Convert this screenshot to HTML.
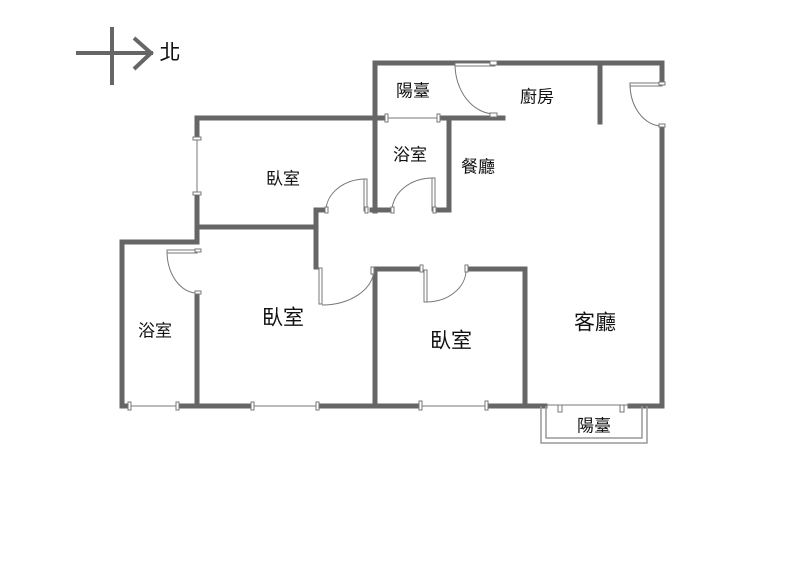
<!DOCTYPE html>
<html><head><meta charset="utf-8"><style>
html,body{margin:0;padding:0;background:#fff;}
svg{display:block}
text{font-family:"Liberation Sans","Noto Sans CJK TC",sans-serif;fill:#111;text-anchor:middle;dominant-baseline:central}
</style></head><body>
<svg width="800" height="577" viewBox="0 0 800 577" xmlns="http://www.w3.org/2000/svg">
<g stroke="#666" stroke-width="4" fill="none" stroke-linecap="square">
  <line x1="78" y1="53" x2="151" y2="53"/>
  <line x1="112" y1="29" x2="112" y2="83"/>
  <polyline points="134,38 151,53 134,69" stroke-linecap="butt"/>
</g>
<text x="170" y="53" font-size="21">北</text>

<g stroke="#666" stroke-width="5" fill="none" stroke-linecap="square">
  <polyline points="375,211 375,63 662,63 662,81"/>
  <line x1="662" y1="126" x2="662" y2="406"/>
  <line x1="600" y1="63" x2="600" y2="122"/>
  <line x1="197" y1="118" x2="385" y2="118"/>
  <line x1="441" y1="118" x2="503" y2="118"/>
  <line x1="449" y1="118" x2="449" y2="210"/>
  <line x1="437" y1="210" x2="449" y2="210"/>
  <line x1="372" y1="210" x2="390" y2="210"/>
  <line x1="197" y1="118" x2="197" y2="137"/>
  <line x1="197" y1="195" x2="197" y2="228"/>
  <line x1="197" y1="227" x2="316" y2="227"/>
  <line x1="316" y1="210" x2="316" y2="267"/>
  <line x1="316" y1="210" x2="323" y2="210"/>
  <polyline points="197,228 197,242 122,242 122,406"/>
  <line x1="197" y1="293" x2="197" y2="406"/>
  <line x1="122" y1="406" x2="129" y2="406"/>
  <line x1="179" y1="406" x2="251" y2="406"/>
  <line x1="319" y1="406" x2="419" y2="406"/>
  <line x1="488" y1="406" x2="545" y2="406"/>
  <line x1="630" y1="406" x2="662" y2="406"/>
  <polyline points="375,406 375,269 421,269"/>
  <polyline points="468,269 525,269 525,406"/>
</g>

<g stroke="#777" stroke-width="1" fill="#fff">
  <line x1="387" y1="118" x2="440" y2="118"/>
  <line x1="197" y1="139" x2="197" y2="194"/>
  <line x1="130" y1="406" x2="178" y2="406"/>
  <line x1="253" y1="406" x2="318" y2="406"/>
  <line x1="421" y1="406" x2="487" y2="406"/>
  <line x1="546" y1="405" x2="630" y2="405"/>
  <rect x="385" y="114" width="3" height="8"/><rect x="437" y="114" width="3" height="8"/>
  <rect x="193" y="137" width="8" height="3"/><rect x="193" y="192" width="8" height="3"/>
  <rect x="128" y="402" width="3" height="8"/><rect x="176" y="402" width="3" height="8"/>
  <rect x="251" y="402" width="3" height="8"/><rect x="316" y="402" width="3" height="8"/>
  <rect x="419" y="401" width="3" height="9"/><rect x="485" y="401" width="3" height="9"/>
  <rect x="558" y="405" width="4" height="7"/><rect x="620" y="405" width="4" height="7"/>
</g>
<g stroke="#999" stroke-width="1.5" fill="none">
  <polyline points="541,406 541,443 647,443 647,406"/>
  <polyline points="546,406 546,438 642,438 642,406"/>
</g>

<g stroke="#777" stroke-width="1" fill="#fff">
  <rect x="364" y="179" width="3" height="32"/>
  <path d="M366,179 A40,32 0 0 0 326,211" fill="none"/>
  <rect x="325" y="207" width="3" height="6"/><rect x="365" y="207" width="3" height="6"/>
  <rect x="432" y="178" width="3" height="33"/>
  <path d="M433,178 A41,33 0 0 0 392,211" fill="none"/>
  <rect x="391" y="207" width="3" height="6"/><rect x="433" y="207" width="3" height="6"/>
  <rect x="455" y="63" width="40" height="3"/>
  <path d="M455,64 A40,50 0 0 0 495,114" fill="none"/>
  <rect x="490" y="61" width="7" height="4"/><rect x="490" y="113" width="7" height="4"/>
  <rect x="630" y="83" width="32" height="3"/>
  <path d="M630,84 A32,42 0 0 0 662,126" fill="none"/>
  <rect x="659" y="82" width="6" height="3"/><rect x="659" y="124" width="6" height="3"/>
  <rect x="167" y="250" width="30" height="3"/>
  <path d="M167,251 A30,42 0 0 0 197,293" fill="none"/>
  <rect x="195" y="249" width="6" height="3"/><rect x="195" y="291" width="6" height="3"/>
  <rect x="319" y="268" width="3" height="36"/>
  <path d="M322,305 A52,36 0 0 0 374,270" fill="none"/>
  <rect x="371" y="267" width="3" height="7"/>
  <rect x="424" y="270" width="3" height="32"/>
  <path d="M426,302 A40,32 0 0 0 466,270" fill="none"/>
  <rect x="420" y="265" width="3" height="7"/><rect x="465" y="265" width="3" height="7"/>
</g>

<text x="413" y="91" font-size="17">陽臺</text>
<text x="537" y="97" font-size="17">廚房</text>
<text x="410" y="155" font-size="17">浴室</text>
<text x="478" y="167" font-size="17">餐廳</text>
<text x="283" y="179" font-size="17">臥室</text>
<text x="283" y="318" font-size="21">臥室</text>
<text x="155" y="331" font-size="17">浴室</text>
<text x="451" y="341" font-size="21">臥室</text>
<text x="595" y="323" font-size="21">客廳</text>
<text x="594" y="426" font-size="17">陽臺</text>
</svg>
</body></html>
